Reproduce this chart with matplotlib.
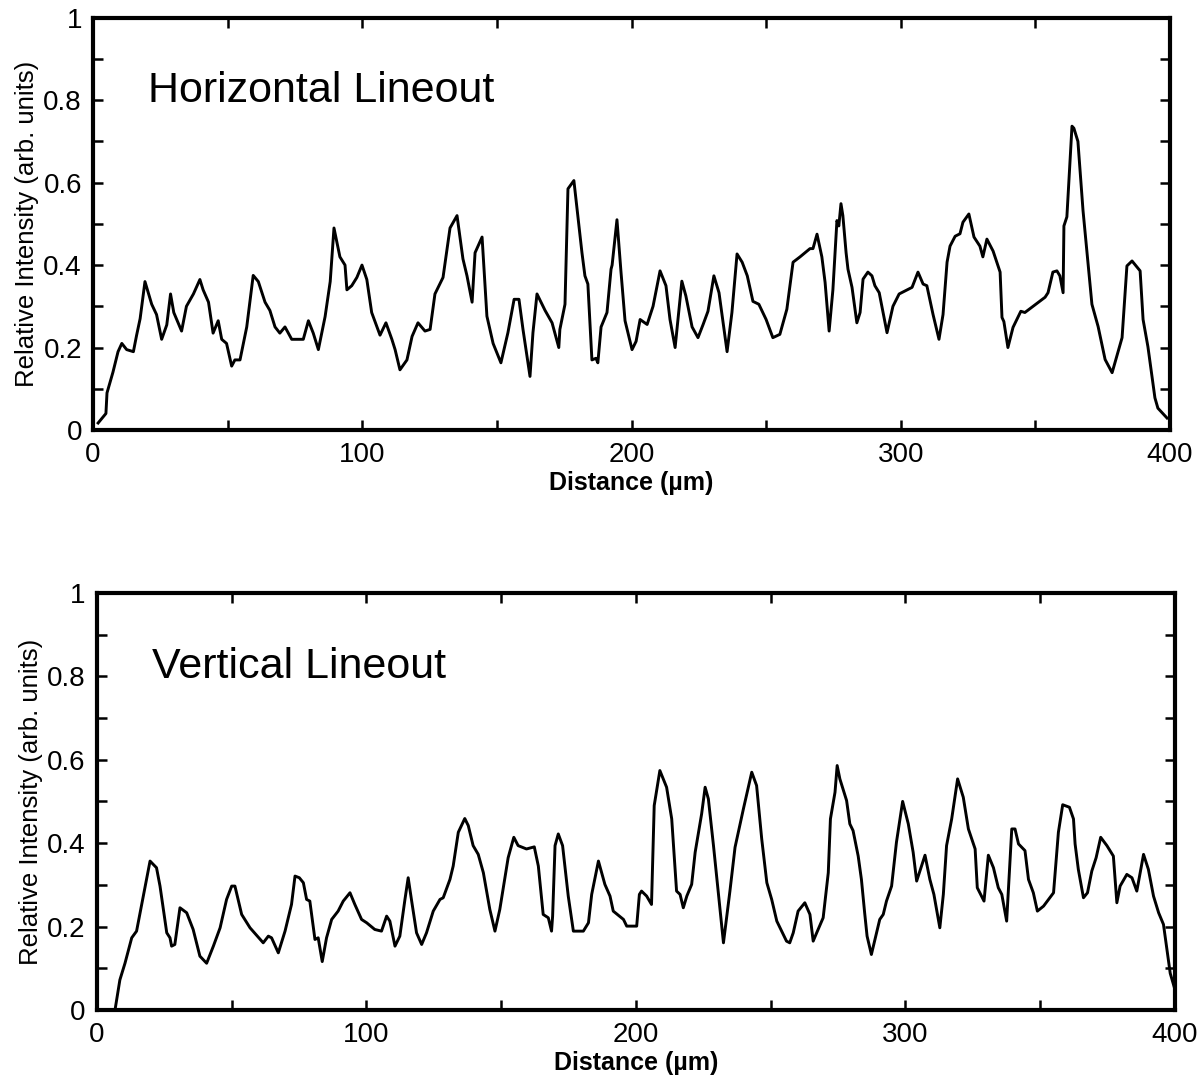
import matplotlib
matplotlib.use("Agg")
import matplotlib.pyplot as plt
from matplotlib.ticker import MultipleLocator, FuncFormatter

plt.rcParams['font.family'] = ['Liberation Sans', 'DejaVu Sans']

# ---------------- data ----------------
horiz_x = [1.9, 4.8, 5.2, 7.4, 9.3, 10.7, 12.5, 15, 16.2, 17.5, 19.3, 21.8, 23.6, 25.5, 27.4, 28.8, 30, 32.9, 34.7,
           37.3, 39.7, 40.9, 42.9, 44.6, 46.5, 47.8, 49.6, 51.5, 52.7, 54.6, 57.1, 59.5, 61.4, 63.9, 65.7, 67.6,
           69.4, 71.3, 73.8, 78.1, 80, 81.8, 83.7, 86.2, 88.1, 89.5, 91.7, 93.6, 94.3, 96.1, 98, 99.9, 101.7,
           103.5, 106.6, 108.8, 111, 112.2, 114, 116.6, 118.5, 120.7, 123.3, 125.2, 127, 130, 132.6, 135.2,
           137.4, 138.9, 140.8, 141.9, 144.5, 146.3, 148.6, 151.5, 154.1, 156.4, 158.2, 159.7, 162.3, 163.4,
           164.9, 167.9, 170.5, 173, 173.4, 175.3, 176.4, 178.6, 181.6, 182.7, 183.8, 185.3, 186.8, 187.5,
           188.7, 190.9, 192.4, 192.8, 194.6, 196.1, 197.6, 200.2, 201.7, 203.2, 205.8, 208, 210.6, 212.8,
           214.3, 216.2, 218.7, 220.2, 222.5, 224.7, 226.6, 228.4, 230.6, 232.5, 235.5, 237.3, 239.2, 241.1,
           243, 245.1, 247.3, 250, 252.5, 255.1, 257.7, 260, 262.6, 266.3, 267.4, 268.9, 270.7, 271.9, 273.4,
           274.8, 276.3, 277, 277.8, 278.5, 279.7, 280.4, 281.9, 283.7, 284.9, 286, 287.8, 289.3, 290.4, 292,
           294.9, 297.1, 299.4, 304.2, 306.4, 308.3, 309.7, 312, 314.2, 315.7, 317.2, 318.3, 320.2, 322, 323.1,
           325.3, 327.2, 329.4, 330.5, 332, 334.3, 336.9, 337.6, 338.3, 339.8, 341.7, 344.6, 346.1, 353.6,
           354.7, 356.5, 358, 359.1, 360.3, 360.6, 361.7, 363.6, 364.3, 365.8, 367.7, 371, 373.3, 375.9, 378.5,
           382.2, 384, 385.9, 388.9, 390, 391.8, 394.4, 395.5, 398.9]
horiz_y = [0.017, 0.04, 0.09, 0.14, 0.19, 0.21, 0.195, 0.19, 0.23, 0.27, 0.36, 0.305, 0.28, 0.22, 0.255, 0.33, 0.285,
           0.24, 0.30, 0.33, 0.365, 0.34, 0.31, 0.235, 0.265, 0.22, 0.21, 0.155, 0.17, 0.17, 0.25, 0.375, 0.36,
           0.31, 0.29, 0.25, 0.235, 0.25, 0.22, 0.22, 0.265, 0.235, 0.195, 0.275, 0.36, 0.49, 0.42, 0.40, 0.34,
           0.35, 0.37, 0.40, 0.365, 0.285, 0.23, 0.26, 0.22, 0.195, 0.146, 0.17, 0.227, 0.26, 0.24, 0.244, 0.33,
           0.37, 0.49, 0.52, 0.415, 0.374, 0.31, 0.43, 0.468, 0.276, 0.21, 0.163, 0.236, 0.317, 0.317, 0.244,
           0.13, 0.236, 0.33, 0.29, 0.26, 0.20, 0.244, 0.305, 0.585, 0.605, 0.43, 0.374, 0.354, 0.17, 0.174,
           0.163, 0.25, 0.285, 0.39, 0.40, 0.51, 0.383, 0.265, 0.195, 0.215, 0.268, 0.256, 0.30, 0.386, 0.35,
           0.268, 0.20, 0.361, 0.325, 0.25, 0.224, 0.256, 0.288, 0.374, 0.333, 0.19, 0.285, 0.427, 0.407, 0.374,
           0.312, 0.305, 0.268, 0.224, 0.232, 0.293, 0.407, 0.42, 0.44, 0.44, 0.475, 0.42, 0.358, 0.24, 0.34,
           0.508, 0.495, 0.549, 0.52, 0.43, 0.39, 0.346, 0.26, 0.285, 0.366, 0.383, 0.374, 0.35, 0.333, 0.236,
           0.30, 0.33, 0.346, 0.383, 0.354, 0.35, 0.28, 0.22, 0.28, 0.407, 0.446, 0.47, 0.476, 0.504, 0.524,
           0.468, 0.446, 0.42, 0.463, 0.434, 0.383, 0.273, 0.263, 0.20, 0.249, 0.288, 0.285, 0.322, 0.333, 0.383,
           0.386, 0.374, 0.333, 0.495, 0.517, 0.737, 0.732, 0.70, 0.532, 0.305, 0.251, 0.171, 0.139, 0.224,
           0.398, 0.41, 0.386, 0.268, 0.202, 0.078, 0.053, 0.029]

vert_x = [0, 6.7, 8.5, 10.4, 12.9, 14.7, 19.7, 22.1, 23.4, 25.9, 27.1, 27.7, 28.9, 30.8, 33.3, 35.7, 38.2, 40.7, 43.2,
          45.7, 48.1, 50, 51.2, 53.7, 56.8, 61.7, 63.6, 64.8, 67.3, 69.8, 72.2, 73.5, 75.1, 76.6, 77.8, 79, 80.9,
          82.1, 83.6, 85.2, 87.1, 89.5, 91.4, 93.9, 95.7, 98.2, 100.1, 103.1, 105.6, 107.5, 108.7, 110.6, 112.4,
          114.3, 115.5, 116.7, 118.6, 120.5, 122.3, 124.8, 127.3, 128.5, 131, 132.2, 134.1, 136.5, 137.8, 139.6,
          141.5, 143.4, 145.8, 147.7, 149.5, 152.6, 154.7, 156.3, 159.4, 162.3, 163.8, 165.6, 167.5, 168.7, 169.1,
          170, 171.2, 172.8, 174.9, 176.8, 180.5, 182.4, 183.6, 186.1, 188.5, 190.4, 191.6, 195.4, 196.6, 200.3,
          201.3, 202.1, 204, 205.8, 206.8, 208.9, 211.4, 213.3, 215.1, 216.4, 217.6, 218.9, 220.7, 222, 224.4,
          225.7, 226.9, 228.8, 230.6, 232.5, 234.9, 236.8, 239.9, 243, 244.8, 246.7, 248.6, 250.4, 252.3, 253.5,
          255.9, 257.1, 258.4, 260.2, 262.7, 264.6, 265.8, 267.1, 269.5, 271.4, 272.2, 273.9, 274.7, 275.7, 278.2,
          279.4, 280.6, 282.5, 283.7, 284.9, 285.8, 287.4, 290.5, 291.8, 293, 294.9, 296.7, 299, 301.1, 302.9,
          304.2, 305.2, 307.3, 309.1, 310.6, 312.8, 314.1, 315.3, 317.2, 319.4, 321.5, 323.4, 325.9, 326.7, 329.2,
          330.8, 332.7, 334.5, 335.8, 337.6, 339.5, 340.7, 342, 344.4, 345.7, 347.5, 349, 351.3, 355, 356.8, 358.4,
          360.9, 362.4, 363, 364.2, 366.1, 367.6, 369.2, 370.8, 372.5, 374.8, 377.2, 378.5, 379.7, 382.2, 384.1,
          385.9, 388.4, 390.2, 392.1, 394, 395.8, 398.3, 400]
vert_y = [0, 0, 0.072, 0.112, 0.173, 0.189, 0.357, 0.341, 0.297, 0.185, 0.173, 0.153, 0.157, 0.245, 0.233, 0.193,
          0.129, 0.112, 0.153, 0.197, 0.265, 0.297, 0.297, 0.229, 0.197, 0.161, 0.177, 0.173, 0.137, 0.189, 0.253,
          0.321, 0.317, 0.305, 0.265, 0.261, 0.169, 0.173, 0.116, 0.173, 0.217, 0.237, 0.261, 0.281, 0.253, 0.217,
          0.209, 0.193, 0.189, 0.225, 0.213, 0.153, 0.177, 0.265, 0.317, 0.265, 0.185, 0.157, 0.185, 0.237, 0.265,
          0.269, 0.313, 0.345, 0.426, 0.459, 0.442, 0.394, 0.373, 0.329, 0.241, 0.189, 0.241, 0.365, 0.414, 0.394,
          0.386, 0.391, 0.345, 0.229, 0.221, 0.189, 0.225, 0.394, 0.422, 0.394, 0.273, 0.189, 0.189, 0.209, 0.277,
          0.357, 0.301, 0.273, 0.237, 0.217, 0.201, 0.201, 0.277, 0.285, 0.273, 0.253, 0.490, 0.574, 0.534, 0.458,
          0.285, 0.277, 0.245, 0.273, 0.301, 0.378, 0.470, 0.534, 0.506, 0.394, 0.281, 0.161, 0.285, 0.390, 0.482,
          0.570, 0.538, 0.410, 0.305, 0.265, 0.213, 0.197, 0.165, 0.161, 0.185, 0.237, 0.257, 0.229, 0.165, 0.185,
          0.221, 0.329, 0.458, 0.522, 0.586, 0.554, 0.502, 0.446, 0.430, 0.369, 0.313, 0.233, 0.177, 0.133, 0.217,
          0.229, 0.261, 0.297, 0.402, 0.500, 0.446, 0.378, 0.309, 0.329, 0.371, 0.313, 0.277, 0.197, 0.277, 0.394,
          0.458, 0.554, 0.510, 0.434, 0.386, 0.293, 0.261, 0.371, 0.341, 0.293, 0.277, 0.213, 0.434, 0.434, 0.398,
          0.382, 0.313, 0.281, 0.237, 0.249, 0.281, 0.426, 0.492, 0.486, 0.458, 0.398, 0.337, 0.269, 0.281, 0.333,
          0.365, 0.414, 0.394, 0.369, 0.257, 0.297, 0.325, 0.317, 0.285, 0.373, 0.337, 0.273, 0.233, 0.205, 0.088,
          0.05]

titles = ["Horizontal Lineout", "Vertical Lineout"]
x_label = "Distance (\u00b5m)"
y_label = "Relative Intensity (arb. units)"

# ---------------- figure ----------------
fig = plt.figure(figsize=(12, 10.75), dpi=100)
ax1 = fig.add_axes([0.0775, 0.600, 0.8975, 0.3835])
ax2 = fig.add_axes([0.0808, 0.0605, 0.8982, 0.388])


def fmt_y(v, pos):
    if abs(v) < 1e-9:
        return "0"
    if abs(v - 1) < 1e-9:
        return "1"
    return f"{v:.1f}"


def style(ax, title):
    ax.set_xlim(0, 400)
    ax.set_ylim(0, 1)
    ax.xaxis.set_major_locator(MultipleLocator(100))
    ax.xaxis.set_minor_locator(MultipleLocator(50))
    ax.yaxis.set_major_locator(MultipleLocator(0.2))
    ax.yaxis.set_minor_locator(MultipleLocator(0.1))
    ax.yaxis.set_major_formatter(FuncFormatter(fmt_y))
    ax.tick_params(which='both', direction='in', top=True, right=True, length=7, width=1.8,
                   labelsize=20)
    ax.tick_params(axis='x', pad=9)
    ax.tick_params(axis='y', pad=8)
    for s in ax.spines.values():
        s.set_linewidth(3.0)
    ax.set_xlabel(x_label, fontsize=18, fontweight='bold', labelpad=2)
    ax.set_ylabel(y_label, fontsize=18.5, labelpad=3)
    ax.text(0.051, 0.796, title, transform=ax.transAxes, fontsize=31, ha='left', va='baseline')


ax1.plot(horiz_x, horiz_y, color='black', lw=2.1)
ax2.plot(vert_x, vert_y, color='black', lw=2.1)
style(ax1, titles[0])
style(ax2, titles[1])

fig.savefig("out.png", dpi=100)
